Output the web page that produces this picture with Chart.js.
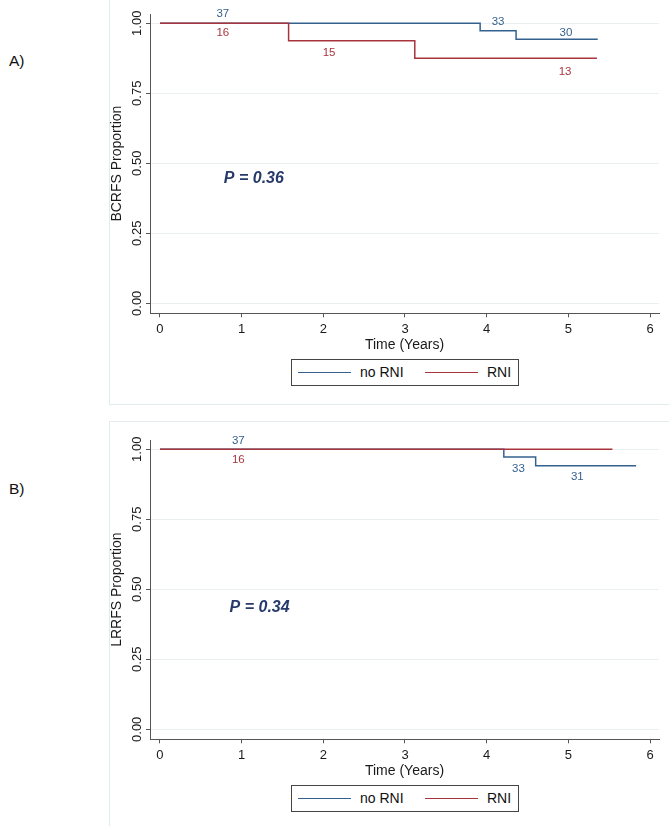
<!DOCTYPE html>
<html>
<head>
<meta charset="utf-8">
<script src="https://cdn.jsdelivr.net/npm/chart.js@4.4.0/dist/chart.umd.min.js"></script>
<style>
    body { margin: 0; background: #fff; font-family: "Liberation Sans", Arial, sans-serif; }
    #page { position: relative; width: 669px; height: 826px; overflow: hidden; }
    .panel { position: absolute; left: 109px; width: 620px; border: 1px solid #e2ebee; }
    .tag { position: absolute; left: 9px; font-size: 15.5px; line-height: 18px; color: #111; }
    .plot { position: absolute; left: 0; }
    .legend { position: absolute; left: 291px; width: 226px; height: 25px; border: 1px solid #444; background: #fff; font-size: 14px; color: #111; }
    .legend .ln { position: absolute; top: 12px; height: 0; border-top: 1.5px solid; width: 53px; }
    .legend .tx { position: absolute; top: 4px; line-height: 16px; }
</style>
</head>
<body>
<div id="page">
    <div class="panel" style="top:-2px; height:405px;"></div>
    <div class="panel" style="top:421px; height:460px;"></div>
    <div class="tag" style="top:52px;">A)</div>
    <div class="tag" style="top:480px;">B)</div>
    <canvas id="chartA" class="plot" style="top:0px;" width="669" height="400"></canvas>
    <canvas id="chartB" class="plot" style="top:426px;" width="669" height="400"></canvas>
    <div class="legend" style="top:359px;">
        <div class="ln" style="left:6px; border-color:#35618f;"></div>
        <div class="tx" style="left:68px;">no RNI</div>
        <div class="ln" style="left:133px; border-color:#a8353d;"></div>
        <div class="tx" style="left:195px;">RNI</div>
    </div>
    <div class="legend" style="top:785px;">
        <div class="ln" style="left:6px; border-color:#35618f;"></div>
        <div class="tx" style="left:68px;">no RNI</div>
        <div class="ln" style="left:133px; border-color:#a8353d;"></div>
        <div class="tx" style="left:195px;">RNI</div>
    </div>
</div>
<script>
// Tick labels
var xTicks = [0, 1, 2, 3, 4, 5, 6];
var yTicks = [0, 0.25, 0.5, 0.75, 1];

// A) BCRFS - Kaplan-Meier steps (time in years, proportion)
var bcrfsNoRniTime = [0, 3.92, 4.36, 5.36];
var bcrfsNoRniSurv = [1, 0.973, 0.943, 0.943];
var bcrfsRniTime = [0, 1.575, 3.12, 5.35];
var bcrfsRniSurv = [1, 0.9375, 0.875, 0.875];

// A) numbers at risk
var bcrfsNoRniRisk = ['37', '33', '30'];
var bcrfsNoRniRiskX = [0.77, 4.14, 4.97];
var bcrfsNoRniRiskY = [1.032, 1.004, 0.966];
var bcrfsRniRisk = ['16', '15', '13'];
var bcrfsRniRiskX = [0.77, 2.07, 4.96];
var bcrfsRniRiskY = [0.964, 0.894, 0.827];

// B) LRRFS
var lrrfsNoRniTime = [0, 4.21, 4.60, 5.83];
var lrrfsNoRniSurv = [1, 0.972, 0.941, 0.941];
var lrrfsRniTime = [0, 5.54];
var lrrfsRniSurv = [1, 1];

var lrrfsNoRniRisk = ['37', '33', '31'];
var lrrfsNoRniRiskX = [0.96, 4.39, 5.11];
var lrrfsNoRniRiskY = [1.031, 0.929, 0.903];
var lrrfsRniRisk = ['16'];
var lrrfsRniRiskX = [0.96];
var lrrfsRniRiskY = [0.963];

var pValues = ['P = 0.36', 'P = 0.34'];
var pValueX = [1.15, 1.22];
var pValueY = [0.444, 0.433];

var BLUE = '#35618f';
var RED = '#a8353d';
var AXIS = '#555555';
var GRID = '#eaf0f2';
var FONT = '"Liberation Sans", Arial, sans-serif';

function toPoints(t, s) {
    return t.map(function (v, i) { return { x: v, y: s[i] }; });
}

// draws rotated y tick labels, numbers at risk and the p value
var annotate = {
    id: 'annotate',
    afterDraw: function (chart) {
        var o = chart.options.plugins.annotate;
        var ctx = chart.ctx, xs = chart.scales.x, ys = chart.scales.y;
        ctx.save();
        ctx.textAlign = 'center';
        ctx.textBaseline = 'middle';

        ctx.font = '13px ' + FONT;
        ctx.fillStyle = '#1a1a1a';
        ys.ticks.forEach(function (t) {
            ctx.save();
            ctx.translate(chart.chartArea.left - 13, ys.getPixelForValue(t.value));
            ctx.rotate(-Math.PI / 2);
            ctx.fillText(t.value.toFixed(2), 0, 0);
            ctx.restore();
        });

        ctx.font = '11.5px ' + FONT;
        o.labels.forEach(function (g) {
            ctx.fillStyle = g.color;
            g.text.forEach(function (txt, i) {
                ctx.fillText(txt, xs.getPixelForValue(g.x[i]), ys.getPixelForValue(g.y[i]));
            });
        });

        ctx.font = 'italic bold 16px ' + FONT;
        ctx.fillStyle = '#273a6a';
        ctx.fillText(o.p, xs.getPixelForValue(o.px), ys.getPixelForValue(o.py));
        ctx.restore();
    }
};

function makeChart(id, yTitle, blue, red, labels, p, px, py) {
    var ctx = document.getElementById(id).getContext('2d');
    return new Chart(ctx, {
        type: 'scatter',
        data: {
            datasets: [
                { label: 'no RNI', data: blue, borderColor: BLUE, borderWidth: 1.5, showLine: true, stepped: 'before', pointRadius: 0, fill: false, order: 1 },
                { label: 'RNI', data: red, borderColor: RED, borderWidth: 1.5, showLine: true, stepped: 'before', pointRadius: 0, fill: false, order: 0 }
            ]
        },
        options: {
            responsive: false,
            animation: false,
            devicePixelRatio: 1,
            layout: { padding: { left: 100, right: 10, top: 14, bottom: 46.2 } },
            plugins: {
                legend: { display: false },
                tooltip: { enabled: false },
                annotate: { labels: labels, p: p, px: px, py: py }
            },
            scales: {
                x: {
                    type: 'linear',
                    min: -0.122,
                    max: 6.11,
                    afterBuildTicks: function (axis) { axis.ticks = xTicks.map(function (v) { return { value: v }; }); },
                    afterFit: function (axis) { axis.height = 40.5; },
                    grid: { drawOnChartArea: false, tickColor: AXIS, tickLength: 4 },
                    border: { color: AXIS, width: 1 },
                    ticks: { color: '#1a1a1a', padding: 4, font: { family: FONT, size: 13 } },
                    title: { display: true, text: 'Time (Years)', color: '#1a1a1a', padding: 0, font: { family: FONT, size: 14 } }
                },
                y: {
                    type: 'linear',
                    min: -0.0357,
                    max: 1.033,
                    afterBuildTicks: function (axis) { axis.ticks = yTicks.map(function (v) { return { value: v }; }); },
                    afterFit: function (axis) { axis.width = 50; },
                    grid: { color: GRID, lineWidth: 1, tickColor: AXIS, tickLength: 4 },
                    border: { color: AXIS, width: 1 },
                    ticks: { display: false },
                    title: { display: true, text: yTitle, color: '#1a1a1a', padding: { top: 9 }, font: { family: FONT, size: 14 } }
                }
            }
        },
        plugins: [annotate]
    });
}

makeChart('chartA', 'BCRFS Proportion',
    toPoints(bcrfsNoRniTime, bcrfsNoRniSurv),
    toPoints(bcrfsRniTime, bcrfsRniSurv),
    [
        { color: BLUE, text: bcrfsNoRniRisk, x: bcrfsNoRniRiskX, y: bcrfsNoRniRiskY },
        { color: RED, text: bcrfsRniRisk, x: bcrfsRniRiskX, y: bcrfsRniRiskY }
    ],
    pValues[0], pValueX[0], pValueY[0]);

makeChart('chartB', 'LRRFS Proportion',
    toPoints(lrrfsNoRniTime, lrrfsNoRniSurv),
    toPoints(lrrfsRniTime, lrrfsRniSurv),
    [
        { color: BLUE, text: lrrfsNoRniRisk, x: lrrfsNoRniRiskX, y: lrrfsNoRniRiskY },
        { color: RED, text: lrrfsRniRisk, x: lrrfsRniRiskX, y: lrrfsRniRiskY }
    ],
    pValues[1], pValueX[1], pValueY[1]);
</script>
</body>
</html>
